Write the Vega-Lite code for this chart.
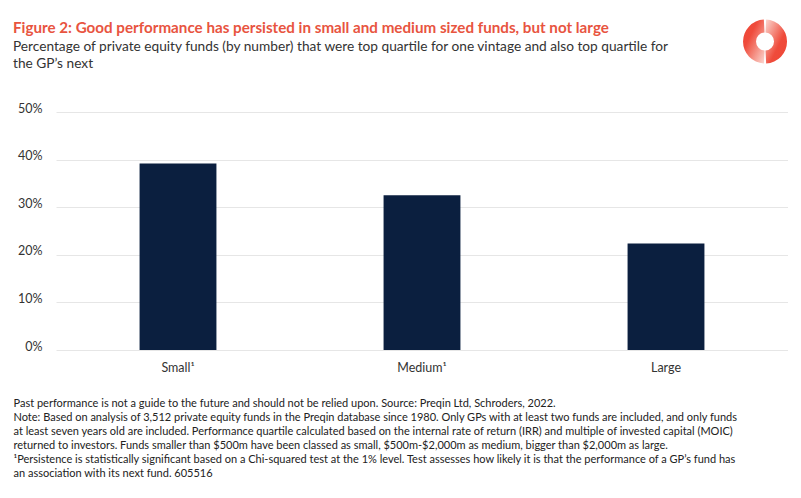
{
  "$schema": "https://vega.github.io/schema/vega-lite/v6.json",
  "width": 732,
  "height": 238,
  "padding": {"left": 13, "top": 19, "right": 0, "bottom": 0},
  "background": "white",
  "title": {
    "text": "Figure 2: Good performance has persisted in small and medium sized funds, but not large",
    "subtitle": [
      "Percentage of private equity funds (by number) that were top quartile for one vintage and also top quartile for",
      "the GP’s next"
    ],
    "anchor": "start",
    "frame": "bounds",
    "offset": -51,
    "font": "Lato",
    "fontSize": 15.2,
    "fontWeight": "bold",
    "color": "#e8543f",
    "subtitleFont": "Lato",
    "subtitleFontSize": 13.7,
    "subtitleColor": "#333333",
    "subtitleLineHeight": 16.5,
    "subtitlePadding": 4
  },
  "config": {"view": {"stroke": null}, "font": "Lato"},
  "layer": [
    {
      "data": {
        "values": [
          {"size": "Small¹", "pct": 39.2},
          {"size": "Medium¹", "pct": 32.5},
          {"size": "Large", "pct": 22.4}
        ]
      },
      "mark": {"type": "bar", "color": "#0b1f3f"},
      "encoding": {
        "x": {
          "field": "size",
          "type": "nominal",
          "sort": null,
          "scale": {"paddingInner": 0.685, "paddingOuter": 0.3425},
          "axis": {
            "labelAngle": 0,
            "labelFont": "Lato",
            "labelFontSize": 12.5,
            "labelColor": "#333333",
            "labelPadding": 11,
            "domain": false,
            "ticks": false,
            "title": [
              "Past performance is not a guide to the future and should not be relied upon. Source: Preqin Ltd, Schroders, 2022.",
              "Note: Based on analysis of 3,512 private equity funds in the Preqin database since 1980. Only GPs with at least two funds are included, and only funds",
              "at least seven years old are included. Performance quartile calculated based on the internal rate of return (IRR) and multiple of invested capital (MOIC)",
              "returned to investors. Funds smaller than $500m have been classed as small, $500m-$2,000m as medium, bigger than $2,000m as large.",
              "¹Persistence is statistically significant based on a Chi-squared test at the 1% level. Test assesses how likely it is that the performance of a GP’s fund has",
              "an association with its next fund. 605516"
            ],
            "titleFont": "Lato",
            "titleFontSize": 11,
            "titleFontWeight": "normal",
            "titleColor": "#222222",
            "titleAnchor": "start",
            "titleAlign": "left",
            "titleX": -43,
            "titleY": 47,
            "titleBaseline": "top",
            "titleLineHeight": 14
          }
        },
        "y": {
          "field": "pct",
          "type": "quantitative",
          "scale": {"domain": [0, 50]},
          "axis": {
            "values": [0, 10, 20, 30, 40, 50],
            "labelExpr": "datum.value + '%'",
            "title": null,
            "domain": false,
            "ticks": false,
            "labelPadding": 14,
            "labelFont": "Lato",
            "labelFontSize": 12.5,
            "labelColor": "#333333",
            "labelBaseline": "alphabetic",
            "gridColor": "#e6e6e6"
          }
        }
      }
    },
    {
      "data": {"values": [{"half": "right"}]},
      "mark": {
        "type": "arc",
        "theta": 0.05,
        "theta2": 3.09,
        "radius": 22,
        "radius2": 9,
        "color": {
          "gradient": "linear",
          "x1": 0, "y1": 0, "x2": 1, "y2": 1,
          "stops": [
            {"offset": 0, "color": "#fbd9d2"},
            {"offset": 0.6, "color": "#ef4b3b"},
            {"offset": 1, "color": "#ee4636"}
          ]
        }
      },
      "encoding": {
        "x": {"datum": 0.9686, "type": "quantitative", "scale": {"domain": [0, 1]}, "axis": null},
        "y": {"datum": 1.296, "type": "quantitative", "scale": {"domain": [0, 1]}, "axis": null}
      }
    },
    {
      "data": {"values": [{"half": "left"}]},
      "mark": {
        "type": "arc",
        "theta": 3.19,
        "theta2": 6.23,
        "radius": 22,
        "radius2": 9,
        "color": {
          "gradient": "linear",
          "x1": 0, "y1": 0, "x2": 1, "y2": 1,
          "stops": [
            {"offset": 0, "color": "#ee4636"},
            {"offset": 0.35, "color": "#ef4b3b"},
            {"offset": 1, "color": "#fbd9d2"}
          ]
        }
      },
      "encoding": {
        "x": {"datum": 0.9686, "type": "quantitative", "scale": {"domain": [0, 1]}, "axis": null},
        "y": {"datum": 1.296, "type": "quantitative", "scale": {"domain": [0, 1]}, "axis": null}
      }
    }
  ],
  "resolve": {"scale": {"x": "independent", "y": "independent"}}
}
